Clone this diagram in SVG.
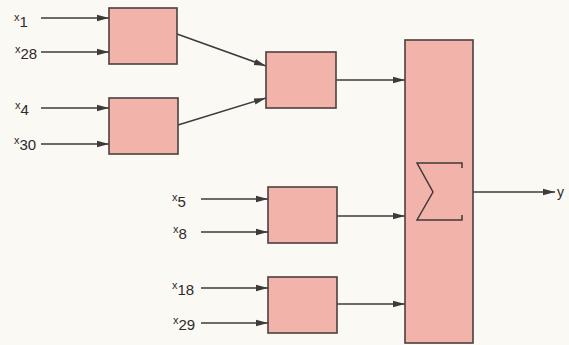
<svg xmlns="http://www.w3.org/2000/svg" width="569" height="345" viewBox="0 0 569 345">
<defs>
<style>
.box{fill:#f2b4aa;stroke:#4a4040;stroke-width:1.6}
.ln{fill:none;stroke:#3f3a3a;stroke-width:1.5}
.lab{font-family:"Liberation Sans",Arial,sans-serif;font-size:15px;fill:#2e2a2a}
.sx{font-size:11px}
</style>
<marker id="ah" markerWidth="13" markerHeight="8" refX="12" refY="4" orient="auto" markerUnits="userSpaceOnUse">
<path d="M0,0.8 L12,4 L0,7.2 Z" fill="#3f3a3a"/>
</marker>
</defs>
<rect width="569" height="345" fill="#fbf9f4"/>
<g id="connectors">
<line class="ln" x1="41" y1="18" x2="109" y2="18" marker-end="url(#ah)"/>
<line class="ln" x1="41" y1="52" x2="109" y2="52" marker-end="url(#ah)"/>
<line class="ln" x1="41" y1="108" x2="109" y2="108" marker-end="url(#ah)"/>
<line class="ln" x1="41" y1="144" x2="109" y2="144" marker-end="url(#ah)"/>
<line class="ln" x1="177" y1="34" x2="266" y2="66" marker-end="url(#ah)"/>
<line class="ln" x1="178" y1="125" x2="266" y2="98" marker-end="url(#ah)"/>
<line class="ln" x1="336" y1="80" x2="405" y2="80" marker-end="url(#ah)"/>
<line class="ln" x1="201" y1="199" x2="268" y2="199" marker-end="url(#ah)"/>
<line class="ln" x1="201" y1="232" x2="268" y2="232" marker-end="url(#ah)"/>
<line class="ln" x1="201" y1="288" x2="268" y2="288" marker-end="url(#ah)"/>
<line class="ln" x1="201" y1="323" x2="268" y2="323" marker-end="url(#ah)"/>
<line class="ln" x1="337" y1="216" x2="405" y2="216" marker-end="url(#ah)"/>
<line class="ln" x1="337" y1="304" x2="405" y2="304" marker-end="url(#ah)"/>
<line class="ln" x1="473" y1="192" x2="555" y2="192" marker-end="url(#ah)"/>
</g>
<g id="node1"><rect class="box" x="109" y="8" width="68" height="56"/></g>
<g id="node2"><rect class="box" x="109" y="98" width="69" height="56"/></g>
<g id="node3"><rect class="box" x="266" y="52" width="70" height="56"/></g>
<g id="node4"><rect class="box" x="268" y="187" width="69" height="56"/></g>
<g id="node5"><rect class="box" x="268" y="277" width="69" height="56"/></g>
<g id="sum">
<rect class="box" x="405" y="40" width="68" height="303"/>
<path class="ln" d="M462,168 V163 H417 L433,192 L417,220 H462 V215"/>
</g>
<g id="labels">
<text class="lab" x="14" y="27"><tspan class="sx" dy="-6">x</tspan><tspan dy="6">1</tspan></text>
<text class="lab" x="15" y="59"><tspan class="sx" dy="-6">x</tspan><tspan dy="6">28</tspan></text>
<text class="lab" x="15" y="115"><tspan class="sx" dy="-6">x</tspan><tspan dy="6">4</tspan></text>
<text class="lab" x="14" y="150"><tspan class="sx" dy="-6">x</tspan><tspan dy="6">30</tspan></text>
<text class="lab" x="172" y="207"><tspan class="sx" dy="-6">x</tspan><tspan dy="6">5</tspan></text>
<text class="lab" x="173" y="239"><tspan class="sx" dy="-6">x</tspan><tspan dy="6">8</tspan></text>
<text class="lab" x="172" y="295"><tspan class="sx" dy="-6">x</tspan><tspan dy="6">18</tspan></text>
<text class="lab" x="173" y="330"><tspan class="sx" dy="-6">x</tspan><tspan dy="6">29</tspan></text>
<text class="lab" x="557" y="197" style="font-size:14px">y</text>
</g>
</svg>
